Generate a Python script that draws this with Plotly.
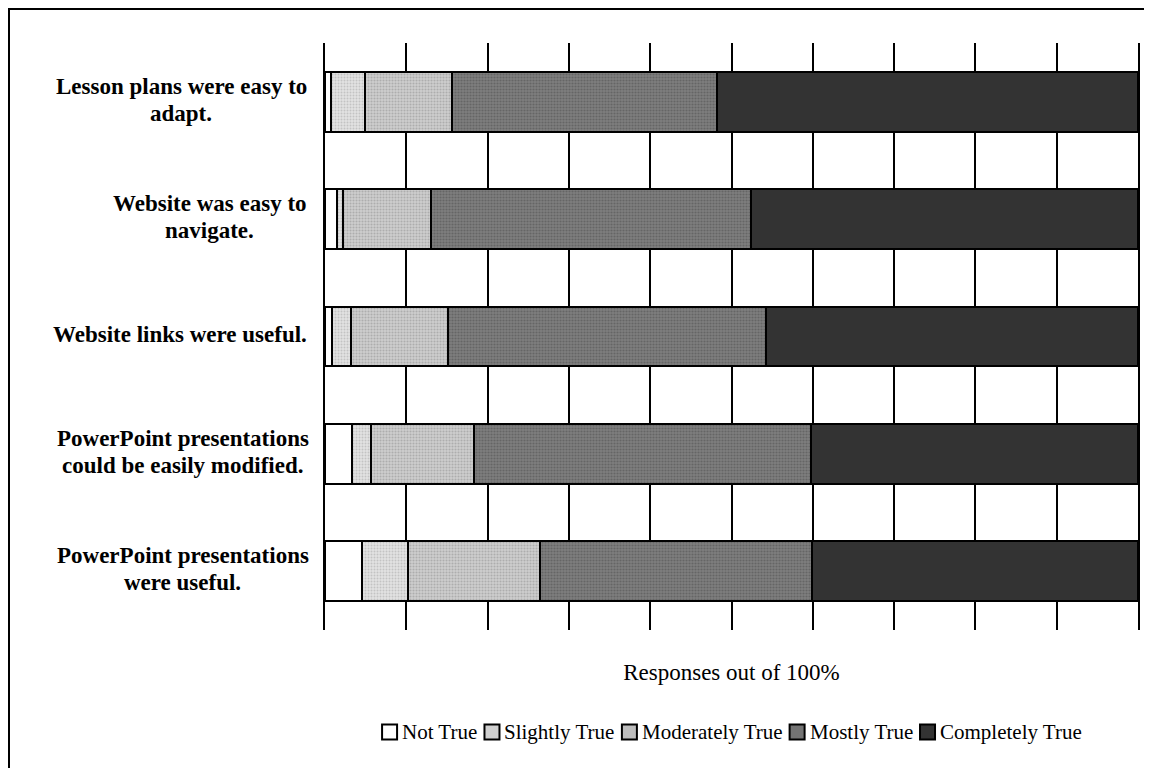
import plotly.graph_objects as go

categories = [
    "Lesson plans were easy to<br>adapt.",
    "Website was easy to<br>navigate.",
    "Website links were useful.",
    "PowerPoint presentations<br>could be easily modified.",
    "PowerPoint presentations<br>were useful.",
]
series_names = ["Not True", "Slightly True", "Moderately True", "Mostly True", "Completely True"]
not_true = [0.7, 1.5, 0.8, 3.3, 4.5]
slightly_true = [4.2, 0.7, 2.4, 2.3, 5.7]
moderately_true = [10.7, 10.8, 11.9, 12.7, 16.2]
mostly_true = [32.6, 39.4, 39.1, 41.5, 33.5]
completely_true = [51.8, 47.6, 45.8, 40.2, 40.1]
values = [not_true, slightly_true, moderately_true, mostly_true, completely_true]

FONT = "Liberation Serif, Times New Roman, serif"
styles = [
    dict(color="white", pattern=None),
    dict(color="#d0d0d0", pattern=dict(shape=".", bgcolor="#e2e2e2", fgcolor="#a4a4a4", size=3, solidity=0.35)),
    dict(color="#bdbdbd", pattern=dict(shape=".", bgcolor="#cfcfcf", fgcolor="#8c8c8c", size=3, solidity=0.4)),
    dict(color="#747474", pattern=dict(shape=".", bgcolor="#7e7e7e", fgcolor="#4c4c4c", size=3, solidity=0.4)),
    dict(color="#333333", pattern=None),
]

# layout geometry (figure pixels)
W, H = 1144, 760
ML, MT, PW, PH = 317, 35, 813, 587
MR, MB = W - ML - PW, H - MT - PH

fig = go.Figure()
for name, vals, st in zip(series_names, values, styles):
    marker = dict(color=st["color"], line=dict(color="black", width=2))
    if st["pattern"]:
        marker["pattern"] = st["pattern"]
    fig.add_trace(go.Bar(
        y=categories, x=vals, name=name, orientation="h",
        marker=marker, showlegend=False,
    ))

annotations = []
# category labels, centred multi-line, bold, with tighter line spacing
LINE = 27
label_right = (301 - ML) / PW
bold_em = {
    "Lesson plans were easy to<br>adapt.": 11.11,
    "Website was easy to<br>navigate.": 8.63,
    "PowerPoint presentations<br>could be easily modified.": 10.97,
    "PowerPoint presentations<br>were useful.": 10.97,
}
for c in categories:
    lines = c.split("<br>")
    n = len(lines)
    for i, ln in enumerate(lines):
        if n == 1:
            xa, xanchor = label_right, "right"
        else:
            w = bold_em[c] * 23
            xa, xanchor = (301 - w / 2 - ML) / PW, "center"
        annotations.append(dict(
            text=ln, xref="paper", yref="y", x=xa, y=c,
            xanchor=xanchor, yanchor="middle", showarrow=False,
            yshift=((n - 1) / 2 - i) * LINE + 2,
            font=dict(family=FONT, size=23, color="black", weight="bold"),
        ))

# custom compact legend
em_widths = {"Not True": 3.638, "Slightly True": 5.306, "Moderately True": 6.748,
             "Mostly True": 4.972, "Completely True": 6.805}
LF = 21
box, gap_bt, gap_item = 15, 3, 8
widths = [box + gap_bt + em_widths[n] * LF for n in series_names]
total = sum(widths) + gap_item * (len(widths) - 1)
x = ML + PW / 2 - total / 2
leg_y_px = 724
shapes = []
for name, st, w in zip(series_names, styles, widths):
    x0 = (x - ML) / PW
    x1 = (x + box - ML) / PW
    yc = (MT + PH - leg_y_px) / PH
    hb = (box / 2) / PH
    shapes.append(dict(type="rect", xref="paper", yref="paper", x0=x0, x1=x1,
                       y0=yc - hb, y1=yc + hb, fillcolor=st["color"],
                       line=dict(color="black", width=2), layer="above"))
    annotations.append(dict(
        text=name, xref="paper", yref="paper", x=(x + box + gap_bt - ML) / PW, y=yc,
        xanchor="left", yanchor="middle", showarrow=False,
        font=dict(family=FONT, size=LF, color="black"),
    ))
    x += w + gap_item

# outer chart border
shapes.append(dict(type="rect", xref="paper", yref="paper",
                   x0=(1 - ML) / PW, x1=1.2, y0=-0.5, y1=(MT + PH - 1) / PH,
                   line=dict(color="black", width=2), fillcolor="rgba(0,0,0,0)", layer="above"))

fig.update_layout(
    barmode="stack",
    bargap=0.49,
    width=W, height=H,
    margin=dict(l=ML, r=MR, t=MT, b=MB),
    paper_bgcolor="white", plot_bgcolor="white",
    font=dict(family=FONT, color="black"),
    showlegend=False,
    xaxis=dict(
        range=[0, 100], dtick=10, showgrid=True, gridcolor="black", gridwidth=2,
        showticklabels=False, zeroline=False, showline=False,
        title=dict(text="Responses out of 100%", font=dict(size=23, family=FONT), standoff=33),
    ),
    yaxis=dict(
        autorange="reversed", showgrid=False, showline=True, mirror=True,
        linecolor="black", linewidth=2, ticks="", showticklabels=False,
    ),
    annotations=annotations,
    shapes=shapes,
)

fig.write_html("out.html")
